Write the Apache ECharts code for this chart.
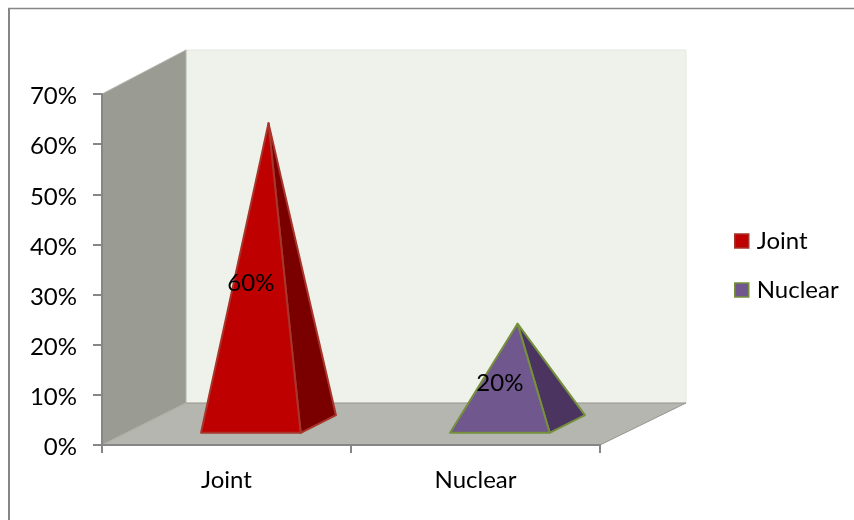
<!DOCTYPE html>
<html>
<head>
<meta charset="utf-8">
<style>html,body{margin:0;padding:0;background:#fff}#chart{width:854px;height:520px}</style>
<script src="https://cdn.jsdelivr.net/npm/echarts@6/dist/echarts.min.js"></script>
</head>
<body>
<div id="chart"></div>
<script>
// Household type shares
const categories = ['Joint', 'Nuclear'];
const jointValues = [60, null];
const nuclearValues = [null, 20];
const axisTicks = [0, 10, 20, 30, 40, 50, 60, 70];

// Oblique projection of the chart box
const DEPTH_X = 84, DEPTH_Y = -42;
const WALL_TOP_EXTRA = 2, WALL_RIGHT_EXTRA = 2;
const FONT = 'Lato, "Open Sans", sans-serif';
const FRONT = 0.29, BACK = 0.71, MIDDLE = 0.5;
const BASE_WIDTH_RATIO = 0.2;

const palette = {
  Joint: { front: '#BE0000', side: '#7A0000', edge: '#A8352B' },
  Nuclear: { front: '#70578E', side: '#4B3560', edge: '#76913C' }
};

// Shifts a front-plane point back into the box by the given depth fraction
function project(pt, depth) {
  return [pt[0] + DEPTH_X * depth, pt[1] + DEPTH_Y * depth];
}

function renderWalls(params, api) {
  const box = params.coordSys;
  const l = box.x, r = box.x + box.width, t = box.y, b = box.y + box.height;
  const poly = (points, fill, stroke) => ({
    type: 'polygon',
    shape: { points },
    style: { fill, stroke: stroke || fill, lineWidth: 1 }
  });
  const backTL = project([l, t - WALL_TOP_EXTRA], 1);
  const backTR = project([r + WALL_RIGHT_EXTRA, t - WALL_TOP_EXTRA], 1);
  const backBR = project([r + WALL_RIGHT_EXTRA, b], 1);
  const backBL = project([l, b], 1);
  return {
    type: 'group',
    children: [
      poly([backTL, backTR, backBR, backBL], '#EFF2EB', '#E4E7E0'),
      poly([[l, b], backBL, backBR, [r, b]], '#B4B6AF', '#96988F'),
      poly([[l, t], backTL, backBL, [l, b]], '#9A9C94', '#B4B6AF')
    ]
  };
}

function renderPyramid(colors) {
  return function (params, api) {
    const cat = api.value(0), val = api.value(1);
    if (val == null || isNaN(val)) return;
    const half = api.size([1, 0])[0] * BASE_WIDTH_RATIO;
    const ground = api.coord([cat, 0]);
    const top = api.coord([cat, val]);
    const mid = api.coord([cat, val / 2]);
    const fl = project([ground[0] - half, ground[1]], FRONT);
    const fr = project([ground[0] + half, ground[1]], FRONT);
    const br = project([ground[0] + half, ground[1]], BACK);
    const apex = project(top, MIDDLE);
    const labelAt = project(mid, FRONT);
    const edge = { stroke: colors.edge, lineWidth: 2, lineJoin: 'round' };
    return {
      type: 'group',
      children: [
        { type: 'polygon', shape: { points: [fr, br, apex] }, style: Object.assign({ fill: colors.side }, edge) },
        { type: 'polygon', shape: { points: [fl, fr, apex] }, style: Object.assign({ fill: colors.front }, edge) },
        { type: 'text', style: { x: labelAt[0], y: labelAt[1] + 1, text: val + '%', fill: '#000', font: '24px ' + FONT, textAlign: 'center', textVerticalAlign: 'middle' } }
      ]
    };
  };
}

function pyramidSeries(name, values) {
  const colors = palette[name];
  return {
    name,
    type: 'custom',
    z: 3,
    renderItem: renderPyramid(colors),
    itemStyle: { color: colors.front, borderColor: colors.edge },
    encode: { x: 0, y: 1 },
    data: values.map((v, i) => [i, v])
  };
}

const chart = echarts.init(document.getElementById('chart'), null, { renderer: 'canvas' });
chart.setOption({
  animation: false,
  backgroundColor: '#fff',
  graphic: [
    { type: 'line', silent: true, shape: { x1: 8, y1: 8.5, x2: 854, y2: 8.5 }, style: { stroke: '#868686', lineWidth: 1.5 } },
    { type: 'line', silent: true, shape: { x1: 9, y1: 8, x2: 9, y2: 520 }, style: { stroke: '#868686', lineWidth: 2 } }
  ],
  grid: { left: 102, top: 94, width: 498, height: 351, containLabel: false },
  legend: {
    left: 729,
    top: 224,
    orient: 'vertical',
    itemWidth: 14,
    itemHeight: 14,
    itemGap: 25,
    icon: 'rect',
    textStyle: { fontFamily: FONT, fontSize: 24, color: '#000', padding: [0, 0, 0, 3] },
    data: categories.map(name => ({
      name,
      itemStyle: { color: palette[name].front, borderColor: palette[name].edge, borderWidth: 1.5 }
    }))
  },
  xAxis: {
    type: 'category',
    data: categories,
    z: 6,
    axisLine: { lineStyle: { color: '#868686', width: 2 } },
    axisTick: { show: true, alignWithLabel: false, length: 8, lineStyle: { color: '#868686', width: 2 } },
    axisLabel: { color: '#000', fontFamily: FONT, fontSize: 24, margin: 23 },
    splitLine: { show: false }
  },
  yAxis: {
    type: 'value',
    min: axisTicks[0],
    max: axisTicks[axisTicks.length - 1],
    interval: 10,
    z: 6,
    axisLine: { show: true, lineStyle: { color: '#868686', width: 2 } },
    axisTick: { show: true, length: 9, lineStyle: { color: '#868686', width: 2 } },
    axisLabel: {
      margin: 25,
      formatter: '{tick|{value}%}',
      rich: { tick: { color: '#000', fontFamily: FONT, fontSize: 24, padding: [5, 0, 0, 0] } }
    },
    splitLine: { show: false }
  },
  series: [
    { name: 'walls', type: 'custom', z: 1, silent: true, renderItem: renderWalls, data: [[0, 0]], encode: { x: 0, y: 1 } },
    pyramidSeries('Joint', jointValues),
    pyramidSeries('Nuclear', nuclearValues)
  ]
});
</script>
</body>
</html>
